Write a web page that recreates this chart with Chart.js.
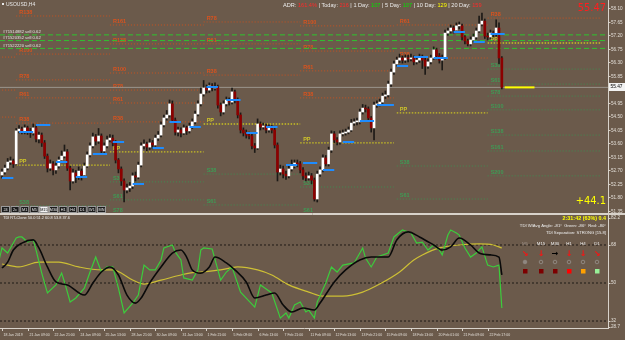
<!DOCTYPE html>
<html>
<head>
<meta charset="utf-8">
<title>USOUSD,H4</title>
<script src="https://cdn.jsdelivr.net/npm/chart.js@4.4.1/dist/chart.umd.min.js"></script>
<style>
  html, body { margin: 0; padding: 0; background: #6b5a4b; }
  #stage { position: relative; width: 625px; height: 340px; overflow: hidden; }
  #priceChart { position: absolute; left: 0; top: 0; }
  #tdiChart { position: absolute; left: 0; top: 214px; }
</style>
</head>
<body>
<div id="stage">
  <canvas id="priceChart" width="625" height="214"></canvas>
  <canvas id="tdiChart" width="625" height="126"></canvas>
</div>
<script>
// ---- data (H4 bars, oldest first) ----
const opens = [
  52.55,52.65,52.78,52.98,53.02,52.92,54.02,54.08,54.02,54.12,
  54.02,53.95,54.12,53.75,53.88,53.62,53.18,52.78,52.92,52.72,
  52.85,53.05,53.18,53.32,52.78,52.35,52.62,52.48,52.68,52.55,
  52.85,53.22,53.52,53.82,53.68,53.85,53.35,53.52,53.72,53.78,
  53.62,53.05,52.75,52.35,52.05,52.12,52.18,52.52,52.48,52.88,
  53.52,53.58,53.48,53.62,53.55,53.78,53.88,54.22,54.45,54.55,
  54.92,54.38,53.98,54.05,53.95,54.12,54.02,54.18,54.32,54.58,
  54.92,55.25,55.45,55.38,55.52,55.45,55.48,54.88,54.65,54.92,
  55.05,54.98,55.32,55.05,54.55,54.05,53.95,53.88,53.85,53.52,
  53.45,54.25,54.15,54.18,54.05,54.12,54.05,53.55,52.65,52.75,
  52.58,52.52,52.75,52.85,52.95,52.92,52.72,52.52,52.45,52.52,
  52.38,51.75,52.58,52.72,53.12,52.92,53.38,53.92,53.72,53.65,
  53.92,53.95,53.98,54.05,54.28,54.32,54.32,54.65,54.78,54.75,
  54.45,54.12,54.88,54.92,54.98,55.18,55.22,55.58,55.98,56.25,
  56.38,56.45,56.38,56.45,56.42,56.45,56.32,56.38,56.48,56.38,
  56.18,56.32,56.45,56.72,56.52,56.38,56.45,57.28,57.35,57.45,
  57.38,57.52,57.52,57.15,57.02,56.92,57.05,57.15,57.35,57.58,
  57.68,57.18,57.15,57.28,57.25,57.45,56.45
];
const highs = [
  52.75,52.88,53.10,53.15,53.08,54.10,54.20,54.15,54.22,54.18,
  54.10,54.25,54.18,53.98,53.95,53.70,53.25,53.05,53.00,52.95,
  53.15,53.35,53.55,53.40,52.85,52.75,52.70,52.82,52.75,52.95,
  53.32,53.62,53.95,53.90,54.10,53.92,53.62,53.85,53.90,53.88,
  53.70,53.10,52.82,52.42,52.25,52.30,52.62,52.65,52.98,53.62,
  53.72,53.65,53.75,53.70,53.88,54.00,54.32,54.55,54.70,55.05,
  55.02,54.45,54.15,54.12,54.22,54.18,54.28,54.42,54.68,55.02,
  55.45,55.70,55.55,55.62,55.60,55.62,55.55,54.95,55.02,55.15,
  55.12,55.45,55.38,55.12,54.62,54.12,54.05,53.98,53.92,53.60,
  54.42,54.32,54.28,54.25,54.22,54.20,54.12,53.62,52.88,52.85,
  52.68,52.85,53.05,53.05,53.05,53.00,52.80,52.62,52.65,52.60,
  52.45,52.68,52.82,53.22,53.20,53.48,54.02,54.00,53.80,54.02,
  54.05,54.08,54.15,54.40,54.42,54.45,54.75,54.90,54.88,54.82,
  54.50,54.98,55.02,55.08,55.28,55.35,55.68,56.08,56.35,56.48,
  56.58,56.52,56.55,56.55,56.58,56.52,56.48,56.58,56.55,56.45,
  56.42,56.55,56.82,56.78,56.60,56.55,57.38,57.45,57.55,57.52,
  57.62,57.65,57.58,57.20,57.08,57.15,57.25,57.45,57.85,57.95,
  57.75,57.28,57.38,57.35,57.72,57.62,56.50
];
const lows = [
  52.45,52.58,52.72,52.90,52.80,52.88,53.95,53.92,53.92,53.90,
  53.80,53.88,53.65,53.62,53.50,53.10,52.65,52.70,52.55,52.60,
  52.78,52.98,53.12,52.70,52.05,52.28,52.30,52.40,52.38,52.48,
  52.80,53.15,53.45,53.55,53.60,53.25,53.28,53.45,53.65,53.52,
  52.95,52.62,52.20,51.65,51.95,52.00,52.10,52.35,52.42,52.82,
  53.42,53.35,53.40,53.42,53.50,53.70,53.82,54.15,54.38,54.48,
  54.30,53.88,53.85,53.82,53.90,53.90,53.95,54.10,54.25,54.52,
  54.85,55.18,55.28,55.30,55.35,55.38,54.78,54.52,54.58,54.85,
  54.88,54.92,54.95,54.45,53.95,53.85,53.78,53.75,53.42,53.30,
  53.40,54.05,54.08,53.95,53.98,53.95,53.45,52.35,52.55,52.45,
  52.40,52.45,52.68,52.78,52.82,52.62,52.40,52.35,52.38,52.25,
  51.68,51.65,52.50,52.65,52.85,52.85,53.30,53.62,53.55,53.58,
  53.85,53.88,53.92,54.00,54.20,54.22,54.25,54.58,54.65,54.35,
  53.98,53.72,54.80,54.85,54.92,55.10,55.15,55.50,55.90,56.18,
  56.30,56.28,56.30,56.32,56.35,56.22,56.25,56.30,56.10,55.90,
  56.10,56.25,56.40,56.42,56.28,56.05,56.40,57.20,57.28,57.28,
  57.30,57.42,57.05,56.92,56.85,56.85,56.98,57.08,57.30,57.52,
  57.10,57.05,57.10,57.15,57.18,56.25,55.42
];
const closes = [
  52.65,52.78,52.98,53.02,52.92,54.02,54.08,54.02,54.12,54.02,
  53.95,54.12,53.75,53.88,53.62,53.18,52.78,52.92,52.72,52.85,
  53.05,53.18,53.32,52.78,52.35,52.62,52.48,52.68,52.55,52.85,
  53.22,53.52,53.82,53.68,53.85,53.35,53.52,53.72,53.78,53.62,
  53.05,52.75,52.35,52.05,52.12,52.18,52.52,52.48,52.88,53.52,
  53.58,53.48,53.62,53.55,53.78,53.88,54.22,54.45,54.55,54.92,
  54.38,53.98,54.05,53.95,54.12,54.02,54.18,54.32,54.58,54.92,
  55.25,55.45,55.38,55.52,55.45,55.48,54.88,54.65,54.92,55.05,
  54.98,55.32,55.05,54.55,54.05,53.95,53.88,53.85,53.52,53.45,
  54.25,54.15,54.18,54.05,54.12,54.05,53.55,52.65,52.75,52.58,
  52.52,52.75,52.85,52.95,52.92,52.72,52.52,52.45,52.52,52.38,
  51.75,52.58,52.72,53.12,52.92,53.38,53.92,53.72,53.65,53.92,
  53.95,53.98,54.05,54.28,54.32,54.32,54.65,54.78,54.75,54.45,
  54.12,54.88,54.92,54.98,55.18,55.22,55.58,55.98,56.25,56.38,
  56.45,56.38,56.45,56.42,56.45,56.32,56.38,56.48,56.38,56.18,
  56.32,56.45,56.72,56.52,56.38,56.45,57.28,57.35,57.45,57.38,
  57.52,57.52,57.15,57.02,56.92,57.05,57.15,57.35,57.58,57.68,
  57.18,57.15,57.28,57.25,57.45,56.45,55.47
];
const bidPrice = 55.47;

const priceTicks = [58.10,57.65,57.20,56.75,56.30,55.85,55.40,54.95,54.50,54.05,53.60,53.15,52.70,52.25,51.80,51.35];
const timeLabels = ['18 Jan 2019','21 Jan 09:00','22 Jan 21:00','24 Jan 09:00','25 Jan 13:00','28 Jan 21:00',
  '30 Jan 09:00','31 Jan 13:00','1 Feb 21:00','5 Feb 09:00','6 Feb 13:00','7 Feb 21:00','11 Feb 09:00',
  '12 Feb 13:00','13 Feb 21:00','15 Feb 09:00','18 Feb 13:00','20 Feb 01:00','21 Feb 09:00','22 Feb 17:00'];
const barsPerTimeLabel = 9;

// weekly ADR levels: first bar, last bar, names, prices
const pivotStarts = [-1, 5, 38, 71, 105, 139, 171];
const pivotEnds   = [5, 38, 71, 105, 138, 171, 211];
const pivotNames = [
  ['R78','R61','R38'],
  ['R138','R100','R78','R61','R38','PP','S38'],
  ['R161','R138','R100','R78','R61','R38','PP','S38','S61','S78'],
  ['R78','R61','R38','PP','S38','S61'],
  ['R100','R78','R61','R38','PP','S38','S61'],
  ['R61','R38','PP','S38','S61'],
  ['R38','PP','S38','S61','S78','S100','S138','S161','S200']
];
const pivotPrices = [
  [56.48, 55.38, 54.48],
  [57.85, 56.58, 55.72, 55.12, 54.28, 52.88, 51.52],
  [57.55, 56.92, 55.95, 55.38, 54.95, 54.32, 53.32, 52.32, 51.72, 51.25],
  [57.65, 56.92, 55.88, 54.25, 52.58, 51.55],
  [57.52, 56.68, 56.02, 55.12, 53.62, 52.15, 51.25],
  [57.55, 56.45, 54.62, 52.85, 51.75],
  [57.78, 56.95, 56.08, 55.58, 55.18, 54.72, 53.88, 53.35, 52.52]
];

// open orders
const orderTickets = ['#71514882 sell 0.62', '#71520352 sell 0.62', '#71522220 sell 0.62'];
const orderPrices = [57.22, 57.03, 56.77];

// daily open markers
const blueFrom = [0,6,12,19,26,32,39,46,53,59,66,72,79,86,93,100,106,113,120,126,132,139,145,152,159,166,172];
const blueTo   = [4,11,17,23,30,37,43,50,57,63,70,76,84,90,97,104,111,117,124,131,138,143,150,157,163,170,177];
const blueLevel = [52.45,53.98,54.22,52.98,52.48,53.25,53.65,52.25,53.45,54.32,54.15,55.48,55.05,53.95,54.15,
  52.88,52.95,52.72,53.65,54.35,54.88,56.18,56.48,56.45,57.32,56.98,57.25];

// ADR header
const adrLabels = ['ADR:', 'Today:', '1 Day:', '5 Day:', '10 Day:', '20 Day:'];
const adrValues = ['161.4%', '216', '107', '107', '129', '159'];
const bigPriceText = '55.47';
const pipsText = '+44.1';

// TDI sub window
const tdiGreenBars = [-1,0,2,5,6,7,9,11,12,14,16,19,21,22,24,26,29,31,33,35,37,39,41,43,46,48,50,52,54,56,57,60,61,63,64,67,69,70,71,74,77,79,81,84,89,91,95,98,100,101,103,105,107,108,110,111,114,116,118,120,124,127,128,130,132,136,138,141,144,146,148,150,152,154,155,157,158,160,161,163,165,167,169,171,173,175,176];
const tdiGreen = [61.0,66.6,64.2,71.3,71.8,71.8,69.4,70.4,65.6,54.7,45.3,49.1,54.7,50.5,41.0,42.9,47.6,55.2,62.3,55.2,57.6,57.6,47.6,35.8,40.5,44.3,58.5,56.2,56.2,60.9,66.6,68.0,64.7,60.9,52.4,51.4,56.2,65.6,66.6,66.1,51.4,55.2,57.6,45.7,38.6,49.1,45.3,33.4,35.8,33.4,39.6,41.0,36.3,37.2,33.4,41.0,50.0,57.6,55.2,58.5,59.5,66.6,61.8,57.6,62.3,64.2,71.8,75.1,73.7,68.9,69.4,65.6,68.0,65.6,63.3,72.7,75.1,73.7,72.7,66.6,62.3,64.2,67.1,58.5,57.6,58.5,38.2];
const tdiSignalBars = [0,2,4,7,11,13,16,19,23,29,32,35,38,41,44,47,49,52,56,60,63,65,67,70,73,75,79,82,86,89,93,96,99,102,106,110,112,117,121,126,130,136,139,143,147,152,155,158,161,165,168,172,175,176];
const tdiSignal = [57.1,59.9,65.6,68.9,70.4,66.6,57.6,50.5,49.1,44.3,50.0,55.2,57.6,53.8,44.3,40.5,42.9,50.0,57.6,64.2,65.6,62.3,56.2,54.7,57.6,62.3,59.5,56.2,50.5,42.9,44.3,45.3,39.6,36.3,38.2,37.2,40.5,50.5,56.2,60.9,62.3,62.3,70.4,74.2,71.8,68.0,65.6,67.1,71.3,68.0,64.2,63.3,62.3,53.8];
const tdiBaseBars = [0,6,13,20,27,35,39,46,50,56,63,66,70,77,83,90,95,101,108,113,120,127,133,140,145,148,154,161,168,173,176];
const tdiBase = [59.0,57.6,59.9,59.9,57.6,56.2,56.2,51.4,49.5,51.4,53.8,54.7,55.2,56.2,57.6,56.2,53.8,49.1,45.7,43.8,43.8,45.7,49.5,55.2,60.9,63.3,66.6,68.0,68.5,68.0,66.6];
const tdiLevels = [68, 50, 32];
const tdiAxisLabels = [82.2, 68, 50, 32, 28.7];
const tdiTitle = 'TDI RT-Clone 50.0 51.2 60.8 53.8 37.6';
const tdiTimer = '2:31:42 (63%) 0.4';
const tdiAngle = 'TDI W/Avg Angle: -81°  Green: -86°  Red: -80°';
const tdiSeparation = 'TDI Separation: STRONG [15.8]';
const tfNames = ['M5', 'M15', 'M30', 'H1', 'H4', 'D1'];
const tfArrow = ['downRight', 'down', 'right', 'down', 'down', 'downRight'];
const tfDot = [1, 0, 0, 0, 0, 0];
const tfSignal = [-3, -3, -3, -2, -1, 1];
const periodButtons = ['24', '2c', 'M1', 'M5', 'M15', 'M30', 'H1', 'H4', 'D1', 'W1', 'MN'];
const activePeriod = 4;

// ---- drawing ----
const X_MIN = -0.7, X_MAX = 213.38;
const FONT = '"Liberation Sans", Arial, sans-serif';
const NARROW = '"Liberation Sans Narrow", "DejaVu Sans Condensed", sans-serif';
const font = (px, bold) => (bold ? 'bold ' : '') + px + 'px ' + FONT;

function text(ctx, s, x, y, color, f, align, baseline) {
  ctx.font = f;
  ctx.fillStyle = color;
  ctx.textAlign = align || 'left';
  ctx.textBaseline = baseline || 'middle';
  ctx.fillText(s, x, y);
}

function levelColor(name) {
  if (name === 'PP') return '#cfc52a';
  return name[0] === 'R' ? '#d9531e' : '#3f9a55';
}

function segments(starts, ends, values) {
  const pts = [];
  values.forEach((v, k) => {
    pts.push({ x: starts[k], y: v }, { x: ends[k], y: v }, { x: ends[k], y: null });
  });
  return pts;
}

const bars = closes.map((c, i) => i);
const wickData = bars.map(i => ({ x: i, y: [Math.min(lows[i], opens[i], closes[i]), Math.max(highs[i], opens[i], closes[i])] }));
const bodyData = bars.map(i => ({ x: i, y: [opens[i], closes[i]] }));

function levelSet(kind) {
  const s = [], e = [], v = [];
  pivotPrices.forEach((levels, w) => levels.forEach((p, k) => {
    const n = pivotNames[w][k];
    const k2 = n === 'PP' ? 'P' : n[0];
    if (k2 === kind) { s.push(pivotStarts[w]); e.push(pivotEnds[w]); v.push(p); }
  }));
  return segments(s, e, v);
}

const lineBase = { type: 'line', pointRadius: 0, spanGaps: false, borderWidth: 1, fill: false };

const priceDecor = {
  id: 'priceDecor',
  beforeDatasetsDraw(chart) {
    const { ctx, scales: { x, y }, chartArea: a } = chart;
    ctx.save();
    ctx.beginPath(); ctx.rect(a.left, a.top, a.width, a.height + 1); ctx.clip();
    pivotPrices.forEach((levels, w) => {
      const x0 = x.getPixelForValue(pivotStarts[w]);
      if (x0 < 2) return;
      levels.forEach((v, k) => {
        const n = pivotNames[w][k];
        text(ctx, n, x0 + 3, y.getPixelForValue(v) - 1, levelColor(n), font(5.5, true), 'left', 'bottom');
      });
    });
    orderPrices.forEach((v, k) => {
      text(ctx, orderTickets[k], 3, y.getPixelForValue(v) - 0.5, '#e4e4e4', font(4.2), 'left', 'bottom');
    });
    ctx.restore();
  },
  afterDraw(chart) {
    const { ctx, scales: { y }, chartArea: a } = chart;
    ctx.save();
    ctx.strokeStyle = '#d8d2ca';
    ctx.lineWidth = 1;
    ctx.beginPath();
    ctx.moveTo(a.right + 0.5, 0); ctx.lineTo(a.right + 0.5, 214);
    ctx.moveTo(0, a.bottom + 0.5); ctx.lineTo(625, a.bottom + 0.5);
    ctx.stroke();
    priceTicks.forEach(v => {
      const py = Math.round(y.getPixelForValue(v)) + 0.5;
      ctx.beginPath(); ctx.moveTo(a.right, py); ctx.lineTo(a.right + 2.5, py); ctx.stroke();
      text(ctx, v.toFixed(2), a.right + 3, py, '#e2ddd6', font(4.6), 'left', 'middle');
    });
    // bid price box
    const by = Math.round(y.getPixelForValue(bidPrice));
    ctx.fillStyle = '#f2f2f2';
    ctx.fillRect(a.right + 1, by - 4, 16, 8);
    text(ctx, bidPrice.toFixed(2), a.right + 2.5, by, '#000000', font(4.8), 'left', 'middle');

    // symbol
    ctx.fillStyle = '#e8e8e8';
    ctx.fillRect(2, 3, 2, 2);
    text(ctx, 'USOUSD,H4', 6, 4.5, '#e8e8e8', font(5), 'left', 'middle');

    // ADR header
    const adrColors = ['#ff2a2a', '#ff2a2a', '#00e400', '#00e400', '#ffff00', '#ff2a2a'];
    let hx = 283;
    ctx.font = font(5.6);
    adrLabels.forEach((lab, k) => {
      const pre = (k ? '| ' : '') + lab + ' ';
      text(ctx, pre, hx, 5, '#ececec', font(5.6));
      hx += ctx.measureText(pre).width;
      text(ctx, adrValues[k], hx, 5, adrColors[k], font(5.6));
      hx += ctx.measureText(adrValues[k] + ' ').width;
    });

    text(ctx, bigPriceText, 606, 8.5, '#ff1e1e', '11px ' + NARROW, 'right', 'middle');
    text(ctx, pipsText, 606, 201.5, '#ffff00', '11px ' + NARROW, 'right', 'middle');

    // period toolbar
    periodButtons.forEach((p, k) => {
      const bx = 1 + k * 9.6;
      const on = k === activePeriod;
      ctx.fillStyle = on ? '#f4f4f4' : '#1b1b1b';
      ctx.fillRect(bx, 206, 9, 7);
      ctx.strokeStyle = '#9a9a9a';
      ctx.strokeRect(bx + 0.5, 206.5, 8, 6);
      text(ctx, p, bx + 4.5, 209.6, on ? '#000' : '#e8e8e8', font(3.8), 'center', 'middle');
    });
    ctx.restore();
  }
};

new Chart(document.getElementById('priceChart'), {
  type: 'bar',
  data: {
    datasets: [
      { ...lineBase, data: levelSet('R'), borderColor: '#c9521f', borderDash: [1, 2], order: 10 },
      { ...lineBase, data: levelSet('S'), borderColor: '#3f8e52', borderDash: [1, 2], order: 10 },
      { ...lineBase, data: levelSet('P'), borderColor: '#c9c024', borderDash: [1.5, 1.5], borderWidth: 1.3, order: 10 },
      { ...lineBase, data: segments(orderPrices.map(() => X_MIN), orderPrices.map(() => X_MAX), orderPrices),
        borderColor: '#2fc42f', borderDash: [5, 3], order: 9 },
      { ...lineBase, data: segments([X_MIN], [X_MAX], [bidPrice]), borderColor: '#9a948c', order: 8 },
      { type: 'bar', data: wickData, backgroundColor: '#1d1a17', barThickness: 1, grouped: false, order: 3 },
      { type: 'bar', data: bodyData, grouped: false, barThickness: 2, minBarLength: 1, order: 2,
        backgroundColor: c => closes[c.dataIndex] >= opens[c.dataIndex] ? '#ffffff' : '#8c0000' },
      { ...lineBase, data: segments(blueFrom, blueTo, blueLevel), borderColor: '#1e8cff', borderWidth: 2, order: 1 },
      { ...lineBase, data: segments([bars.length], [bars.length + 10.5], [bidPrice]), borderColor: '#ffff00', borderWidth: 2, order: 0 }
    ]
  },
  options: {
    responsive: false,
    animation: false,
    events: [],
    layout: { padding: { left: 0, right: 17, top: 0, bottom: 1 } },
    scales: {
      x: { type: 'linear', min: X_MIN, max: X_MAX, offset: false, display: false },
      y: { min: 51.283, max: 58.383, display: false }
    },
    plugins: { legend: { display: false }, tooltip: { enabled: false } }
  },
  plugins: [priceDecor]
});

const tdiDecor = {
  id: 'tdiDecor',
  afterDraw(chart) {
    const { ctx, scales: { x, y }, chartArea: a } = chart;
    ctx.save();
    ctx.strokeStyle = '#d8d2ca';
    ctx.lineWidth = 1;
    ctx.beginPath();
    ctx.moveTo(0, 0.5); ctx.lineTo(625, 0.5);
    ctx.moveTo(a.right + 0.5, 0); ctx.lineTo(a.right + 0.5, a.bottom + 1);
    ctx.moveTo(0, a.bottom + 0.5); ctx.lineTo(a.right + 1, a.bottom + 0.5);
    ctx.stroke();

    tdiAxisLabels.forEach((v, k) => {
      let py = y.getPixelForValue(v);
      if (k === 0) py += 3;
      if (k === tdiAxisLabels.length - 1) py -= 1;
      ctx.beginPath(); ctx.moveTo(a.right, Math.round(py) + 0.5); ctx.lineTo(a.right + 2.5, Math.round(py) + 0.5); ctx.stroke();
      text(ctx, String(v), a.right + 3, py, '#e2ddd6', font(4.6), 'left', 'middle');
    });

    timeLabels.forEach((s, k) => {
      const px = Math.round(x.getPixelForValue(k * barsPerTimeLabel)) + 0.5;
      ctx.beginPath(); ctx.moveTo(px, a.bottom); ctx.lineTo(px, a.bottom + 3); ctx.stroke();
      text(ctx, s, px + 1, a.bottom + 7, '#e2ddd6', font(3.5), 'left', 'middle');
    });

    text(ctx, tdiTitle, 3, 4, '#eeeeee', font(3.9), 'left', 'middle');
    text(ctx, tdiTimer, 606, 5, '#ffff00', font(5.4, true), 'right', 'middle');
    text(ctx, tdiAngle, 606, 12, '#eeeeee', font(4.2), 'right', 'middle');
    text(ctx, tdiSeparation, 606, 18.5, '#eeeeee', font(4.2), 'right', 'middle');

    const cols = [525, 541, 555, 569, 583, 597];
    const glyph = { down: '↓', downRight: '↘', right: '→' };
    const sigColor = { '-3': '#7d0000', '-2': '#ff0000', '-1': '#ffa000', '1': '#98f098' };
    tfNames.forEach((n, k) => {
      const cx = cols[k];
      text(ctx, n, cx, 30, k === 0 ? '#9b9088' : '#eeeeee', font(4.4), 'center', 'middle');
      const g = glyph[tfArrow[k]];
      text(ctx, g, cx, 39.5, tfArrow[k] === 'right' ? '#000000' : '#ff1010', 'bold 8px "DejaVu Sans", sans-serif', 'center', 'middle');
      ctx.beginPath();
      ctx.arc(cx, 48, 1.8, 0, Math.PI * 2);
      ctx.strokeStyle = '#8f8780';
      ctx.stroke();
      if (tfDot[k]) { ctx.fillStyle = '#8f8780'; ctx.fill(); }
      ctx.fillStyle = sigColor[String(tfSignal[k])];
      ctx.fillRect(cx - 2, 55, 4.5, 4.5);
    });
    ctx.restore();
  }
};

const pts = (xs, ys) => xs.map((b, i) => ({ x: b, y: ys[i] }));

new Chart(document.getElementById('tdiChart'), {
  type: 'line',
  data: {
    datasets: [
      { ...lineBase, data: segments(tdiLevels.map(() => X_MIN), tdiLevels.map(() => X_MAX), tdiLevels),
        borderColor: '#1f1a16', borderDash: [2, 2], order: 5 },
      { ...lineBase, data: pts(tdiBaseBars, tdiBase), borderColor: '#cdbf35', borderWidth: 1.2,
        cubicInterpolationMode: 'monotone', order: 4 },
      { ...lineBase, data: pts(tdiGreenBars, tdiGreen), borderColor: '#3ccc3c', borderWidth: 1.2, order: 3 },
      { ...lineBase, data: pts(tdiSignalBars, tdiSignal), borderColor: '#0a0a0a', borderWidth: 1.6,
        cubicInterpolationMode: 'monotone', order: 2 }
    ]
  },
  options: {
    responsive: false,
    animation: false,
    events: [],
    layout: { padding: { left: 0, right: 17, top: 1, bottom: 12 } },
    scales: {
      x: { type: 'linear', min: X_MIN, max: X_MAX, display: false },
      y: { min: 28.7, max: 82.2, display: false }
    },
    plugins: { legend: { display: false }, tooltip: { enabled: false } }
  },
  plugins: [tdiDecor]
});
</script>
</body>
</html>
